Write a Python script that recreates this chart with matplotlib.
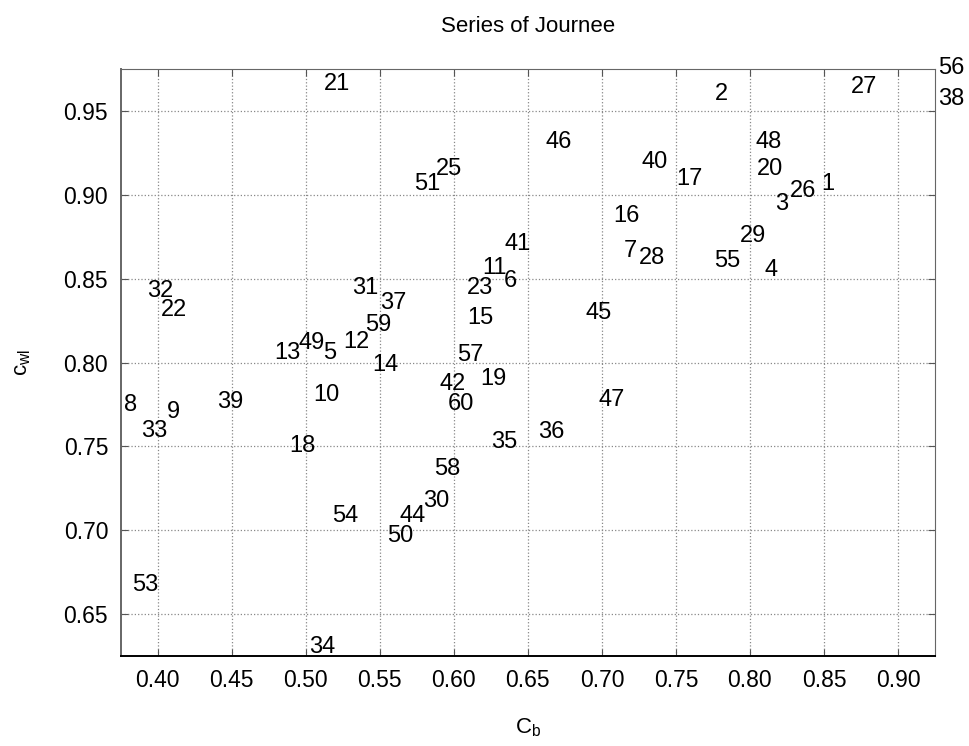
import matplotlib
matplotlib.use('Agg')
import matplotlib.pyplot as plt

plt.rcParams['font.family'] = ['Liberation Sans', 'DejaVu Sans']
plt.rcParams['mathtext.fontset'] = 'custom'
plt.rcParams['mathtext.rm'] = 'Liberation Sans'
plt.rcParams['mathtext.it'] = 'Liberation Sans'

# ship numbers in the series and their (Cb, Cwl) values
labels = ['1', '2', '3', '4', '5', '6', '7', '8', '9', '10',
          '11', '12', '13', '14', '15', '16', '17', '18', '19', '20',
          '21', '22', '23', '25', '26', '27', '28', '29', '30', '31',
          '32', '33', '34', '35', '36', '37', '38', '39', '40', '41',
          '42', '44', '45', '46', '47', '48', '49', '50', '51', '53',
          '54', '55', '56', '57', '58', '59', '60']
cb = [0.848, 0.776, 0.817, 0.810, 0.512, 0.634, 0.715, 0.377, 0.406, 0.505,
      0.619, 0.525, 0.479, 0.545, 0.609, 0.708, 0.750, 0.489, 0.618, 0.805,
      0.512, 0.402, 0.609, 0.588, 0.827, 0.868, 0.725, 0.793, 0.579, 0.531,
      0.393, 0.389, 0.502, 0.625, 0.657, 0.550, 0.927, 0.440, 0.727, 0.634,
      0.590, 0.563, 0.689, 0.662, 0.698, 0.804, 0.495, 0.555, 0.573, 0.383,
      0.518, 0.776, 0.927, 0.602, 0.587, 0.540, 0.596]
cwl = [0.908, 0.962, 0.896, 0.857, 0.807, 0.850, 0.868, 0.776, 0.772, 0.782,
       0.858, 0.814, 0.807, 0.800, 0.828, 0.889, 0.911, 0.752, 0.792, 0.917,
       0.968, 0.833, 0.846, 0.917, 0.904, 0.966, 0.864, 0.877, 0.719, 0.846,
       0.844, 0.761, 0.632, 0.754, 0.760, 0.837, 0.959, 0.778, 0.921, 0.872,
       0.789, 0.710, 0.831, 0.933, 0.779, 0.933, 0.813, 0.698, 0.908, 0.669,
       0.710, 0.862, 0.977, 0.806, 0.738, 0.824, 0.777]

xticks = [0.40, 0.45, 0.50, 0.55, 0.60, 0.65, 0.70, 0.75, 0.80, 0.85, 0.90]
yticks = [0.65, 0.70, 0.75, 0.80, 0.85, 0.90, 0.95]

fig = plt.figure(figsize=(9.69, 7.46), dpi=100)
ax = fig.add_axes([0.1246, 0.1206, 0.8403, 0.7865])

for lab, x, y in zip(labels, cb, cwl):
    ax.text(x, y, lab, ha='left', va='center_baseline', fontsize=17, color='black')

ax.set_xlim(0.375, 0.925)
ax.set_ylim(0.625, 0.975)
ax.set_xticks(xticks)
ax.set_yticks(yticks)
ax.set_xticklabels(['%.2f' % v for v in xticks])
ax.set_yticklabels(['%.2f' % v for v in yticks])
ax.tick_params(direction='in', length=5, labelsize=16.5, top=True, right=True,
               colors='#555555', labelcolor='black', pad=9)
ax.grid(True, linestyle=':', color='#888888', linewidth=0.9)

for side in ['top', 'right', 'left']:
    ax.spines[side].set_color('#666666')
ax.spines['bottom'].set_color('black')
ax.spines['left'].set_linewidth(1.4)
ax.spines['bottom'].set_linewidth(1.4)

ax.set_title('Series of Journee', fontsize=16, pad=27)
ax.set_xlabel(r'$\mathregular{C_b}$', fontsize=16, labelpad=18)
ax.set_ylabel(r'$\mathregular{c_{wl}}$', fontsize=16, labelpad=22)

fig.savefig('out.png', dpi=100)
